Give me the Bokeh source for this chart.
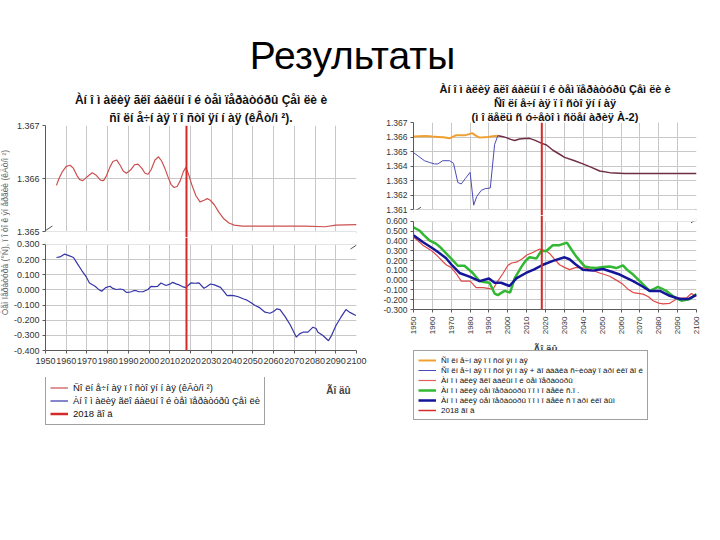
import math
from bokeh.plotting import figure
from bokeh.layouts import column, row
from bokeh.models import (FixedTicker, Span, BoxAnnotation, Legend, LegendItem,
                          Label, Title, NumeralTickFormatter)
from bokeh.embed import file_html
from bokeh.resources import INLINE
from bokeh.core.properties import value

# ---------------- data ----------------
slide_title = "Результаты"
year_ticks = list(range(1950, 2101, 10))
marker_year = 2018
xlabel = "Ãî äû"

# left chart
left_title_1 = "Àí î ì àëèÿ ãëî áàëüí î é òåì ïåðàòóðû Çåì ëè è"
left_title_2 = "ñî ëí å÷í àÿ ï î ñòî ÿí í àÿ (êÂò/ì ²)."
left_ylabel = "Òåì ïåðàòóðà (°Ñ), ï î òî ê ýí åðãèè (êÂò/ì ²)"
left_upper_ticks = [1.365, 1.366, 1.367]
left_lower_ticks = [-0.4, -0.3, -0.2, -0.1, 0.0, 0.1, 0.2, 0.3]
left_legend = ["Ñî ëí å÷í àÿ ï î ñòî ÿí í àÿ (êÂò/ì ²)",
               "Àí î ì àëèÿ ãëî áàëüí î é òåì ïåðàòóðû Çåì ëè",
               "2018 ãî ä"]

left_solar_years = [1955.3, 1956.5, 1958, 1960, 1961.9, 1963.5, 1965.1, 1966.5, 1968, 1970,
                    1972.5, 1974.5, 1976.5, 1978, 1979.5, 1981, 1982.5, 1984.3, 1986, 1987.5,
                    1989, 1991, 1993, 1994.6, 1996.5, 1998, 1999.5, 2001, 2002.8, 2004.5,
                    2006, 2007.5, 2009, 2010.5, 2012, 2013.5, 2015, 2016.5, 2017.7, 2019,
                    2020.5, 2022.5, 2024.5, 2026.5, 2028, 2029.5, 2031.5, 2033.5, 2036, 2038.5,
                    2041, 2045, 2060, 2075, 2085, 2090, 2100]
left_solar_vals = [1.36587, 1.36600, 1.36612, 1.36623, 1.36625, 1.36619, 1.36606, 1.36598, 1.36596, 1.36603,
                   1.36611, 1.36606, 1.36597, 1.36596, 1.36606, 1.36621, 1.36632, 1.36635, 1.36625, 1.36614,
                   1.36610, 1.36616, 1.36626, 1.36627, 1.36619, 1.36610, 1.36608, 1.36617, 1.36635, 1.36641,
                   1.36633, 1.36620, 1.36604, 1.36589, 1.36583, 1.36585, 1.36596, 1.36613, 1.36621, 1.36608,
                   1.36589, 1.36568, 1.36556, 1.36559, 1.36562, 1.36559, 1.36550, 1.36537, 1.36524, 1.36516,
                   1.36512, 1.36510, 1.36510, 1.36510, 1.36509, 1.36512, 1.36513]

left_temp_years = [1955.3, 1957, 1959.1, 1961, 1963.5, 1965.5, 1967.5, 1969.5, 1971.2, 1973.9,
                   1975.5, 1977.1, 1979, 1981.1, 1982.5, 1984.2, 1986, 1987.4, 1989, 1990.5,
                   1991.4, 1992.5, 1993.8, 1995, 1997, 1999.4, 2001, 2002.5, 2004.1, 2005.7,
                   2008.1, 2010, 2011.3, 2013, 2014.5, 2016, 2017.7, 2020.1, 2022, 2024,
                   2026.4, 2027.5, 2029.6, 2031.5, 2034.4, 2036, 2037.6, 2039, 2040.8, 2043,
                   2045.6, 2047, 2048.8, 2051.1, 2053, 2055.9, 2058.3, 2060, 2061.5, 2063.1,
                   2065.5, 2068, 2071, 2072.5, 2074.2, 2076.6, 2079, 2080.5, 2081.4, 2083.8,
                   2086.5, 2088, 2090.1, 2092.5, 2094.9, 2097, 2099.7]
left_temp_vals = [0.214, 0.218, 0.236, 0.228, 0.214, 0.170, 0.128, 0.090, 0.046, 0.024,
                  0.005, -0.009, 0.015, 0.024, 0.010, 0.003, 0.006, 0.003, -0.016, -0.014,
                  -0.012, -0.005, -0.005, -0.012, -0.012, 0.003, 0.024, 0.022, 0.024, 0.046,
                  0.029, 0.038, 0.050, 0.040, 0.033, 0.022, 0.015, 0.046, 0.044, 0.046,
                  0.011, 0.020, 0.039, 0.033, 0.017, -0.010, -0.038, -0.036, -0.038, -0.045,
                  -0.060, -0.066, -0.081, -0.103, -0.115, -0.147, -0.154, -0.142, -0.125, -0.130,
                  -0.175, -0.230, -0.312, -0.290, -0.279, -0.279, -0.246, -0.255, -0.279, -0.301,
                  -0.336, -0.300, -0.235, -0.180, -0.130, -0.150, -0.169]

# right chart
right_title_1 = "Àí î ì àëèÿ ãëî áàëüí î é òåì ïåðàòóðû Çåì ëè è"
right_title_2 = "Ñî ëí å÷í àÿ ï î ñòî ÿí í àÿ"
right_title_3 = "(ì î äåëü ñ ó÷åòî ì ñöåí àðèÿ À-2)"
right_upper_ticks = [1.361, 1.362, 1.363, 1.364, 1.365, 1.366, 1.367]
right_lower_ticks = [-0.3, -0.2, -0.1, 0.0, 0.1, 0.2, 0.3, 0.4, 0.5, 0.6]
right_legend = ["Ñî ëí å÷í àÿ ï î ñòî ÿí í àÿ",
                "Ñî ëí å÷í àÿ ï î ñòî ÿí í àÿ + äî áàâêà ñ÷èòàÿ ï àðí èêî âî é",
                "Àí î ì àëèÿ ãëî áàëüí î é òåì ïåðàòóðû",
                "Àí î ì àëèÿ òåì ïåðàòóðû ï î ì î äåëè ñ.ï .",
                "Àí î ì àëèÿ òåì ïåðàòóðû ï î ì î äåëè ñ ï àðí èêî âûì",
                "2018 ãî ä"]

solar_years = [1950, 1953, 1956.5, 1960, 1962.9, 1966, 1969.1, 1970.5, 1972.6, 1975,
               1977.6, 1979.5, 1981.1, 1983, 1985, 1987, 1989.4, 1992, 1994.7]
solar_vals = [1.36603, 1.36605, 1.36607, 1.36603, 1.36601, 1.36598, 1.36591, 1.36600, 1.36613, 1.36613,
              1.36613, 1.36620, 1.36627, 1.36610, 1.36596, 1.36598, 1.36601, 1.36605, 1.36609]

solar_plus_years = [1950, 1952.3, 1955.8, 1958.5, 1961.1, 1962.9, 1965.5, 1969.1, 1971.2, 1973.5,
                    1975.3, 1977.5, 1980, 1981.9, 1983.5, 1985.9, 1988, 1990.7, 1993, 1994.7]
solar_plus_vals = [1.36493, 1.36471, 1.36437, 1.36425, 1.36415, 1.36415, 1.36437, 1.36437, 1.36420, 1.36287,
                   1.36277, 1.36315, 1.36357, 1.36131, 1.36190, 1.36233, 1.36245, 1.36249, 1.36550, 1.36609]

forecast_years = [1994.7, 1997, 1999.2, 2001.5, 2003.6, 2006.2, 2009, 2011.5, 2014.5, 2017.7,
                  2020.5, 2023.9, 2027, 2030.1, 2035, 2039.8, 2044, 2048.7, 2054, 2062, 2080, 2100]
forecast_vals = [1.36609, 1.36604, 1.36596, 1.36584, 1.36576, 1.36587, 1.36590, 1.36591, 1.36577, 1.36558,
                 1.36545, 1.36509, 1.36485, 1.36460, 1.36438, 1.36415, 1.36393, 1.36366, 1.36355, 1.36349,
                 1.36349, 1.36349]

obs_years = [1950, 1952.5, 1954.9, 1957.5, 1960.3, 1963, 1965.5, 1967.5, 1969.9, 1972.5,
             1975.3, 1977.5, 1980, 1981.5, 1983.2, 1986.8, 1989.5, 1992.1, 1994.7, 1997.5,
             2000, 2002, 2004.5, 2007.5, 2010.1, 2013.5, 2016.8, 2018.5, 2020.4, 2022.1,
             2024.5, 2027.4, 2030, 2032.7, 2036.3, 2041.6, 2045, 2048.7, 2054, 2057.5,
             2061, 2063.5, 2066.4, 2071.7, 2074.5, 2077, 2080, 2082.3, 2085.8, 2088,
             2090.2, 2094.7, 2097.3, 2100]
obs_vals = [0.440, 0.400, 0.357, 0.325, 0.290, 0.240, 0.190, 0.155, 0.130, 0.070,
            -0.010, -0.010, -0.010, -0.040, -0.077, -0.077, -0.085, -0.093, -0.010, 0.070,
            0.150, 0.175, 0.183, 0.215, 0.257, 0.285, 0.317, 0.310, 0.297, 0.273,
            0.220, 0.157, 0.130, 0.107, 0.130, 0.123, 0.100, 0.073, 0.040, 0.000,
            -0.043, -0.090, -0.127, -0.143, -0.170, -0.210, -0.235, -0.243, -0.237, -0.210,
            -0.183, -0.183, -0.137, -0.170]

model_sp_years = [1950, 1953.1, 1955.5, 1958.4, 1961.9, 1964.5, 1967.3, 1970.5, 1973.5, 1977,
                  1981.4, 1985, 1987.5, 1990.3, 1993, 1994.7, 1996.5, 1998.3, 2001.2, 2003.6,
                  2007.1, 2009.5, 2011.5, 2015.1, 2017.7, 2020.4, 2023.9, 2027.4, 2031.3, 2033.8,
                  2036.3, 2040.7, 2043.5, 2046.9, 2050.5, 2054, 2057.5, 2061, 2063.5, 2066.4,
                  2071.7, 2075.2, 2077.5, 2079.6, 2084, 2088.5, 2092, 2096.5, 2100]
model_sp_vals = [0.540, 0.507, 0.460, 0.407, 0.373, 0.330, 0.273, 0.210, 0.147, 0.147,
                 0.073, -0.010, -0.020, -0.027, -0.137, -0.153, -0.130, -0.110, -0.127, 0.017,
                 0.133, 0.200, 0.233, 0.220, 0.297, 0.297, 0.357, 0.357, 0.383, 0.310,
                 0.240, 0.140, 0.130, 0.123, 0.135, 0.140, 0.123, 0.150, 0.100, 0.057,
                 -0.043, -0.110, -0.090, -0.070, -0.110, -0.177, -0.210, -0.193, -0.143]

model_gh_years = [1950, 1954.9, 1960.3, 1963.5, 1967.3, 1970.5, 1974.4, 1980, 1985, 1990,
                  1993, 1996.4, 2000.9, 2004.5, 2009.6, 2014, 2018.6, 2023.9, 2030.1, 2032.7,
                  2036, 2039.8, 2045.1, 2050.4, 2055, 2059.3, 2066.4, 2071, 2075.2, 2080.6,
                  2085.8, 2091.2, 2095.6, 2100]
model_gh_vals = [0.457, 0.390, 0.323, 0.280, 0.223, 0.150, 0.073, 0.033, -0.010, 0.017,
                 -0.027, -0.027, -0.060, 0.017, 0.073, 0.110, 0.157, 0.197, 0.233, 0.213,
                 0.160, 0.107, 0.097, 0.113, 0.085, 0.057, -0.010, -0.060, -0.110, -0.110,
                 -0.160, -0.193, -0.193, -0.150]

# ---------------- style ----------------
FONT = "Liberation Sans"
GRID = "#c8c8c8"
AXIS = "#5a5a5a"
RED = "#d42a2a"
X0, X1 = 1950, 2100


def make_fig(width, height, y_range, left, right, top, bottom, x_axis=False, x_range=None):
    p = figure(width=width, height=height, x_range=x_range or (X0, X1), y_range=y_range,
               output_backend="svg", toolbar_location=None,
               x_axis_location="below" if x_axis else None,
               min_border_left=left, min_border_right=right,
               min_border_top=top, min_border_bottom=bottom)
    p.outline_line_color = None
    p.background_fill_color = "white"
    p.border_fill_color = "white"
    p.xgrid.ticker = FixedTicker(ticks=year_ticks)
    p.xgrid.grid_line_color = GRID
    p.ygrid.grid_line_color = GRID
    return p


def style_y(p, ticks, size):
    ax = p.yaxis[0]
    ax.ticker = FixedTicker(ticks=ticks)
    ax.bounds = (min(ticks), max(ticks))
    ax.formatter = NumeralTickFormatter(format="0.000")
    ax.major_label_text_font = FONT
    ax.major_label_text_font_size = size
    ax.major_label_text_color = "#333333"
    ax.axis_line_color = AXIS
    ax.major_tick_line_color = AXIS
    ax.major_tick_out = 3
    ax.major_tick_in = 0
    ax.minor_tick_line_color = None
    ax.major_label_standoff = 3
    p.ygrid.ticker = FixedTicker(ticks=ticks)


def style_x(p, size, vertical=False):
    ax = p.xaxis[0]
    ax.ticker = FixedTicker(ticks=year_ticks)
    ax.major_label_text_font = FONT
    ax.major_label_text_font_size = size
    ax.major_label_text_color = "#333333"
    ax.axis_line_color = AXIS
    ax.major_tick_line_color = AXIS
    ax.major_tick_out = 3
    ax.major_tick_in = 0
    ax.minor_tick_line_color = None
    ax.major_label_standoff = 4
    if vertical:
        ax.major_label_orientation = math.pi / 2


def add_box(p, bottom=None, top=None):
    p.add_layout(BoxAnnotation(bottom=bottom, top=top, fill_color="white", fill_alpha=1.0,
                               line_alpha=0))


def add_marker(p):
    p.add_layout(Span(location=marker_year, dimension="height", line_color=RED, line_width=2))


def break_marks(p, yr, fw, fh, centers, half=7.0, slope=0.64):
    # short diagonal axis-break strokes, clipped to the plot frame
    kx = (X1 - X0) / fw
    ky = (yr[1] - yr[0]) / fh
    x0s, y0s, x1s, y1s = [], [], [], []
    for cx, cy in centers:
        a = max(cx - half, 0.0)
        b = min(cx + half, fw)
        x0s.append(X0 + a * kx)
        x1s.append(X0 + b * kx)
        y0s.append(yr[0] + (cy + (a - cx) * slope) * ky)
        y1s.append(yr[0] + (cy + (b - cx) * slope) * ky)
    p.segment(x0s, y0s, x1s, y1s, line_color="#555555", line_width=1)


def add_title(p, text, size, offset, standoff):
    p.add_layout(Title(text=text, align="center", text_font=FONT, text_font_size=size,
                       text_font_style="bold", text_color="#111111", standoff=standoff,
                       offset=offset), "above")


def blank(width, height, left=0, right=0):
    p = figure(width=width, height=height, x_range=(0, 1), y_range=(0, 1), output_backend="svg",
               toolbar_location=None, x_axis_location=None, y_axis_location=None,
               min_border_left=left, min_border_right=right, min_border_top=0,
               min_border_bottom=0)
    p.outline_line_color = None
    p.grid.visible = False
    return p


# ---------------- slide title ----------------
tf = blank(704, 80)
tf.text(x=[0.5], y=[0.316], text=[slide_title], text_align="center", text_baseline="alphabetic",
        text_font=value(FONT), text_font_size="39px", text_color="black")

# ---------------- left y label strip ----------------
yl = blank(10, 352)
yl.text(x=[0.45], y=[0.568], text=[left_ylabel], angle=math.pi / 2, text_align="center",
        text_baseline="middle", text_font=value(FONT), text_font_size="8.5px",
        text_color="#666666")

# ---------------- left chart ----------------
LW = 367
lu_yr = (1.364887, 1.367)
lu = make_fig(LW, 157, lu_yr, 32, 21, 45, 0)
style_y(lu, left_upper_ticks, "9px")
add_title(lu, left_title_2, "12px", -10, 2)
add_title(lu, left_title_1, "12px", -10, 1)
lu.line(left_solar_years, left_solar_vals, line_color="#cc5050", line_width=1.2)
add_box(lu, top=1.365)
add_marker(lu)
break_marks(lu, lu_yr, 314, 112, [(0, 7), (315, 5.5)])

ll_yr = (-0.4, 0.3462)
ll = make_fig(LW, 140, ll_yr, 32, 21, 0, 27, x_axis=True, x_range=lu.x_range)
style_y(ll, left_lower_ticks, "9px")
style_x(ll, "9px")
ll.line(left_temp_years, left_temp_vals, line_color="#3535a8", line_width=1.2)
add_box(ll, bottom=0.3)
add_marker(ll)
break_marks(ll, ll_yr, 314, 113, [(0, 107.5), (315, 106)])

lg = blank(LW, 55, left=32, right=21)
g1 = lg.line(left_solar_years[:2], left_solar_vals[:2], line_color="#cc5050", line_width=1.2)
g2 = lg.line(left_temp_years[:2], left_solar_vals[:2], line_color="#3535a8", line_width=1.2)
g3 = lg.line(year_ticks[:2], left_solar_vals[:2], line_color=RED, line_width=2.5)
leg_l = Legend(items=[LegendItem(label=t, renderers=[r]) for t, r in zip(left_legend, [g1, g2, g3])],
               location=(0, 7), label_text_font=FONT, label_text_font_size="9.5px",
               label_text_color="#111111", glyph_width=18, glyph_height=13, label_height=13,
               spacing=0, padding=4, margin=0, label_standoff=5,
               border_line_color="#444444", border_line_width=1, background_fill_alpha=1)
lg.add_layout(leg_l)
lg.add_layout(Label(x=293, y=42, x_units="screen", y_units="screen", text=xlabel,
                    text_font=FONT, text_font_size="10px", text_font_style="bold",
                    text_align="center", text_baseline="middle"))

# ---------------- right chart ----------------
RW = 327
ru_yr = (1.3606, 1.367)
ru = make_fig(RW, 135, ru_yr, 36, 8, 39, 0)
style_y(ru, right_upper_ticks, "8.5px")
add_title(ru, right_title_3, "11px", -5, 0)
add_title(ru, right_title_2, "11px", -5, 0)
add_title(ru, right_title_1, "11px", -5, 0)
ru.line(solar_years, solar_vals, line_color="#f0a030", line_width=2)
ru.line(solar_plus_years, solar_plus_vals, line_color="#4a4ab8", line_width=1)
ru.line(forecast_years, forecast_vals, line_color="#6e2f45", line_width=1.5)
add_box(ru, top=1.361)
add_marker(ru)
break_marks(ru, ru_yr, 283, 96, [(2, 5), (283, 6)], half=5.5)

rl_yr = (-0.3, 0.66)
rl = make_fig(RW, 122, rl_yr, 36, 8, 0, 26, x_axis=True, x_range=ru.x_range)
style_y(rl, right_lower_ticks, "8.5px")
style_x(rl, "8px", vertical=True)
rl.line(obs_years, obs_vals, line_color="#e04848", line_width=1.2)
rl.line(model_sp_years, model_sp_vals, line_color="#33b833", line_width=2.5)
rl.line(model_gh_years, model_gh_vals, line_color="#15159a", line_width=2.5)
add_box(rl, bottom=0.6)
add_marker(rl)
break_marks(rl, rl_yr, 283, 96, [(2, 91.5), (283, 92)], half=5.5)

rg = blank(RW, 95, left=36, right=8)
styles = [("#f0a030", 2), ("#4a4ab8", 1), ("#e06060", 1.2), ("#33b833", 2.5),
          ("#15159a", 2.5), (RED, 1.5)]
rr = [rg.line(year_ticks[:2], solar_vals[:2], line_color=c, line_width=w) for c, w in styles]
leg_r = Legend(items=[LegendItem(label=t, renderers=[r]) for t, r in zip(right_legend, rr)],
               location=(0, 12), label_text_font=FONT, label_text_font_size="8px",
               label_text_color="#111111", glyph_width=18, glyph_height=10, label_height=10,
               spacing=0, padding=4, margin=0, label_standoff=5,
               border_line_color="#444444", border_line_width=1, background_fill_alpha=1)
rg.add_layout(leg_r)
rg.add_layout(Label(x=132, y=83, x_units="screen", y_units="screen", text=xlabel,
                    text_font=FONT, text_font_size="10px", text_font_style="bold",
                    text_align="center", text_baseline="middle"))

layout = column(tf, row(yl, column(lu, ll, lg), column(ru, rl, rg)))
open("out.html", "w").write(file_html(layout, INLINE))
